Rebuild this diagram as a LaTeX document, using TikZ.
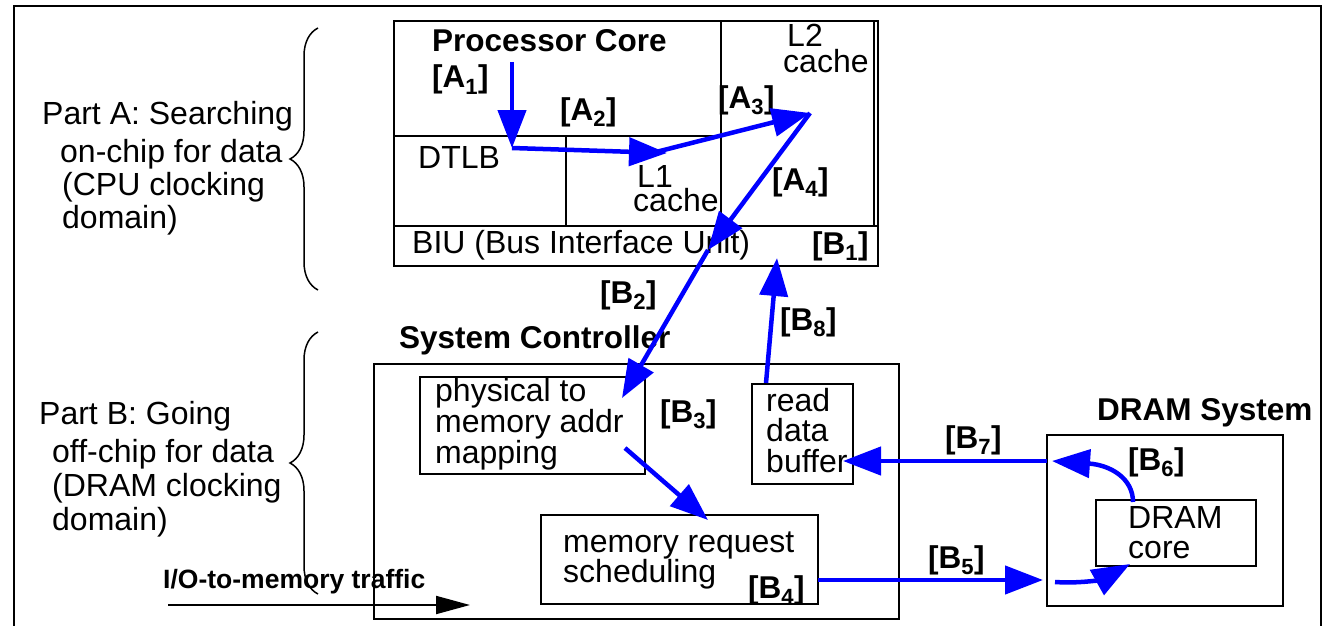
\documentclass[tikz,border=0pt]{standalone}
\usepackage{fontspec}
\setmainfont{Liberation Sans}
\usetikzlibrary{arrows.meta,decorations.pathreplacing,fit}
\definecolor{flowblue}{RGB}{0,0,255}
\newcommand\steplab[2]{[#1\textsubscript{#2}]}
\begin{document}
\begin{tikzpicture}[x=1pt,y=-1pt,
  frame/.style={draw=black, line width=2.2pt},
  box/.style={draw=black, line width=2.4pt, inner sep=0pt},
  part/.style={draw=black, line width=2.4pt},
  flow/.style={draw=flowblue, line width=4.5pt, -{Triangle[length=38pt,width=28pt]}},
  io/.style={draw=black, line width=2pt, -{Triangle[length=34pt,width=18pt]}},
  txt/.style={anchor=base west, inner sep=0pt, font=\fontsize{32}{36}\selectfont},
  btxt/.style={anchor=base west, inner sep=0pt, font=\fontsize{31.5}{36}\selectfont\bfseries},
  iotxt/.style={anchor=base west, inner sep=0pt, font=\fontsize{26.5}{30}\selectfont\bfseries},
  curly/.style={draw=black, line width=1.5pt, decorate, decoration={brace, amplitude=28pt}},
]
\useasboundingbox (0,0) rectangle (1327,626);
\clip (0,0) rectangle (1327,626);

% outer frame
\draw[frame] (14,6) rectangle (1321,700);

% processor chip and its partitions
\node[box, fit={(394,21) (878,266)}] (proc) {};
\draw[part] (394,226) -- (878,226);
\draw[part] (394,136) -- (721,136);
\draw[part] (721,21) -- (721,226);
\draw[part] (566,136) -- (566,226);
\draw[part] (874,21) -- (874,226);

% system controller and its blocks
\node[box, fit={(374,364) (899,619)}] (sysctl) {};
\node[box, fit={(420,377) (645,474)}] (phys) {};
\node[box, fit={(752,384) (853,484)}] (rdb) {};
\node[box, fit={(541,515) (818,604)}] (mrs) {};

% DRAM system
\node[box, fit={(1047,435) (1283,606)}] (dram) {};
\node[box, fit={(1096,500) (1256,566)}] (core) {};

% braces
\draw[curly] (318,290) -- (318,28);
\draw[curly] (318,594) -- (318,332);

% left-hand descriptions
\node[txt] (pa1) at (42,124) {Part A: Searching};
\node[txt] (pa2) at (60,162) {on-chip for data};
\node[txt] (pa3) at (62,195) {(CPU clocking};
\node[txt] (pa4) at (62,228) {domain)};
\node[txt] (pb1) at (39,424) {Part B: Going};
\node[txt] (pb2) at (52,462) {off-chip for data};
\node[txt] (pb3) at (52,496) {(DRAM clocking};
\node[txt] (pb4) at (52,530) {domain)};

% processor labels
\node[btxt] (pclab) at (432,52) {Processor Core};
\node[txt] (dtlb) at (418,168) {DTLB};
\node[txt] (l1a) at (637,187) {L1};
\node[txt] (l1b) at (633,211) {cache};
\node[txt] (l2a) at (787,47) {L2};
\node[txt] (l2b) at (783,72) {cache};
\node[txt] (biu) at (412,253) {BIU (Bus Interface Unit)};

% system controller labels
\node[btxt] (sclab) at (399,348) {System Controller};
\node[txt] (ph1) at (435,401) {physical to};
\node[txt] (ph2) at (435,432) {memory addr};
\node[txt] (ph3) at (435,463) {mapping};
\node[txt] (rd1) at (766,411) {read};
\node[txt] (rd2) at (766,441) {data};
\node[txt] (rd3) at (766,472) {buffer};
\node[txt] (mr1) at (563,552) {memory request};
\node[txt] (mr2) at (563,582) {scheduling};

% DRAM labels
\node[btxt] (drlab) at (1097,420) {DRAM System};
\node[txt] (dc1) at (1128,528) {DRAM};
\node[txt] (dc2) at (1128,558) {core};

% step labels
\node[btxt] (tA1) at (432,88) {\steplab{A}{1}};
\node[btxt] (tA2) at (560,120) {\steplab{A}{2}};
\node[btxt] (tA3) at (718,108) {\steplab{A}{3}};
\node[btxt] (tA4) at (772,190) {\steplab{A}{4}};
\node[btxt] (tB1) at (812,254) {\steplab{B}{1}};
\node[btxt] (tB2) at (600,303) {\steplab{B}{2}};
\node[btxt] (tB3) at (660,422) {\steplab{B}{3}};
\node[btxt] (tB4) at (748,598) {\steplab{B}{4}};
\node[btxt] (tB5) at (928,568) {\steplab{B}{5}};
\node[btxt] (tB6) at (1128,470) {\steplab{B}{6}};
\node[btxt] (tB7) at (945,448) {\steplab{B}{7}};
\node[btxt] (tB8) at (780,330) {\steplab{B}{8}};

% flow waypoints
\coordinate (pA) at (512,62);
\coordinate (pB) at (512,148);
\coordinate (pC) at (667,153);
\coordinate (pC2) at (652,153);
\coordinate (pD) at (810,113);
\coordinate (pE) at (708,250);
\coordinate (pF) at (622,398);
\coordinate (pG) at (625,448);
\coordinate (pH) at (708,520);
\coordinate (pI) at (766,383);
\coordinate (pJ) at (777,258);
\coordinate (pK) at (818,580);
\coordinate (pL) at (1043,580);
\coordinate (pM) at (1055,582);
\coordinate (pN) at (1130,564);
\coordinate (pO) at (1133,502);
\coordinate (pP) at (1052,461);
\coordinate (pQ) at (1047,461);
\coordinate (pR) at (843,461);
\coordinate (ioS) at (168,605);
\coordinate (ioE) at (470,605);

% flows
\draw[flow] (pA) -- (pB);
\draw[flow] (pB) -- (pC);
\draw[flow] (pC2) -- (pD);
\draw[flow] (pD) -- (pE);
\draw[flow] (pE) -- (pF);
\draw[flow] (pG) -- (pH);
\draw[flow] (pI) -- (pJ);
\draw[flow] (pK) -- (pL);
\draw[flow] (pM) .. controls (1085,584) and (1105,578) .. (pN);
\draw[flow] (pO) .. controls (1133,478) and (1110,465) .. (pP);
\draw[flow] (pQ) -- (pR);

% I/O traffic
\node[iotxt] (iolab) at (163,588) {I/O-to-memory traffic};
\draw[io] (ioS) -- (ioE);
\end{tikzpicture}
\end{document}
